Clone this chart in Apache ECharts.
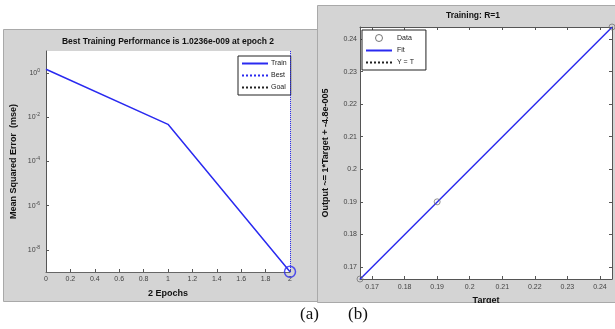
<!DOCTYPE html>
<html>
<head>
<meta charset="utf-8">
<script src="https://cdn.jsdelivr.net/npm/echarts@6/dist/echarts.min.js"></script>
<style>
  html, body { margin: 0; padding: 0; background: #fff; }
  #chart { width: 615px; height: 329px; }
</style>
</head>
<body>
<div id="chart"></div>
<script>
// (a) training performance
const trainEpochs = [0, 1, 2];
const trainMse = [1.5, 0.0048, 1.0236e-9];
const bestEpoch = 2;
const bestPerf = 1.0236e-9;
const goalMse = 1e-5;
const mseTicks = [1, 1e-2, 1e-4, 1e-6, 1e-8];
const epochTicks = [0, 0.2, 0.4, 0.6, 0.8, 1, 1.2, 1.4, 1.6, 1.8, 2];

// (b) regression
const targets = [0.1663, 0.19, 0.2437];
const outputs = [0.1663, 0.19, 0.2437];
const fitSlope = 1;
const fitOffset = -4.8e-5;
const regTicks = [0.17, 0.18, 0.19, 0.2, 0.21, 0.22, 0.23, 0.24];
const regMin = 0.1663, regMax = 0.2437;

const font = 'Liberation Sans, Arial, sans-serif';
const labelColor = '#444';
const blue = '#2a2af0';

const chart = echarts.init(document.getElementById('chart'));

const trainData = trainEpochs.map((e, i) => [e, trainMse[i]]);
const dataPts = targets.map((t, i) => [t, outputs[i]]);
const tMin = Math.min(...targets), tMax = Math.max(...targets);
const fitLine = [[tMin, fitSlope * tMin + fitOffset], [tMax, fitSlope * tMax + fitOffset]];
const ytLine = [[regMin, regMin], [regMax, regMax]];

function fmtReg(v) {
  return String(Number(v.toFixed(2)));
}

const labelStyle = { fontSize: 7, color: labelColor, fontFamily: font };
const nameStyle = { fontSize: 9, fontWeight: 'bold', color: '#111', fontFamily: font };
// hide the symbol in legend icons of line series
const noSym = { opacity: 0 };

chart.setOption({
  backgroundColor: '#fff',
  animation: false,
  graphic: [
    { type: 'rect', z: -1, shape: { x: 3.5, y: 29.5, width: 314, height: 272 },
      style: { fill: '#d4d4d4', stroke: '#a9a9a9', lineWidth: 1 } },
    { type: 'rect', z: -1, shape: { x: 317.5, y: 5.5, width: 300, height: 297 },
      style: { fill: '#d4d4d4', stroke: '#a9a9a9', lineWidth: 1 } },
    { type: 'rect', z: 50, shape: { x: 318, y: 303, width: 300, height: 30 },
      style: { fill: '#fff' } },
    { type: 'text', z: 60, left: 300, top: 306,
      style: { text: '(a)', font: '17px "Liberation Serif", "Times New Roman", serif', fill: '#111' } },
    { type: 'text', z: 60, left: 348, top: 306,
      style: { text: '(b)', font: '17px "Liberation Serif", "Times New Roman", serif', fill: '#111' } }
  ],
  title: [
    { text: 'Best Training Performance is 1.0236e-009 at epoch 2', left: 168, top: 37,
      textAlign: 'center', padding: 0,
      textStyle: { fontSize: 8.5, fontWeight: 'bold', color: '#111', fontFamily: font } },
    { text: 'Training: R=1', left: 473, top: 11, textAlign: 'center', padding: 0,
      textStyle: { fontSize: 8.5, fontWeight: 'bold', color: '#111', fontFamily: font } }
  ],
  grid: [
    { left: 46, top: 51, width: 244, height: 221, show: true, backgroundColor: '#fff', borderWidth: 0 },
    { left: 360, top: 27, width: 252, height: 252, show: true, backgroundColor: '#fff', borderWidth: 0 }
  ],
  legend: [
    {
      data: [
        { name: 'Train', itemStyle: noSym },
        { name: 'Best', itemStyle: noSym },
        { name: 'Goal', itemStyle: noSym }
      ],
      orient: 'vertical', left: 238, top: 56, itemGap: 5, itemWidth: 26, itemHeight: 7,
      padding: [4, 4, 4, 3], backgroundColor: '#fff', borderColor: '#222', borderWidth: 1,
      borderRadius: 0, align: 'left',
      textStyle: { fontSize: 7, color: '#222', fontFamily: font, padding: [0, 0, 0, -2] }
    },
    {
      data: [
        { name: 'Data', icon: 'circle',
          itemStyle: { color: 'rgba(0,0,0,0)', borderColor: '#555', borderWidth: 1 } },
        { name: 'Fit', itemStyle: noSym },
        { name: 'Y = T', itemStyle: noSym }
      ],
      orient: 'vertical', left: 362, top: 30, itemGap: 5, itemWidth: 26, itemHeight: 7,
      padding: [4, 12, 4, 3], backgroundColor: '#fff', borderColor: '#222', borderWidth: 1,
      borderRadius: 0, align: 'left',
      textStyle: { fontSize: 7, color: '#222', fontFamily: font }
    }
  ],
  xAxis: [
    {
      gridIndex: 0, type: 'value', min: 0, max: 2,
      name: '2 Epochs', nameLocation: 'middle', nameGap: 17, nameTextStyle: nameStyle,
      axisLine: { show: true, lineStyle: { color: '#666', width: 1 } },
      axisTick: { inside: true, length: 3, customValues: epochTicks, lineStyle: { color: '#555' } },
      axisLabel: { customValues: epochTicks, margin: 4, ...labelStyle },
      splitLine: { show: false }
    },
    {
      gridIndex: 1, type: 'value', min: regMin, max: regMax,
      name: 'Target', nameLocation: 'middle', nameGap: 15, nameTextStyle: nameStyle,
      axisLine: { show: true, onZero: false, lineStyle: { color: '#555', width: 1 } },
      axisTick: { inside: true, length: 3, customValues: regTicks, lineStyle: { color: '#555' } },
      axisLabel: { customValues: regTicks, margin: 5, formatter: fmtReg, ...labelStyle },
      splitLine: { show: false }
    },
    {
      gridIndex: 1, type: 'value', min: regMin, max: regMax, position: 'top',
      axisLine: { show: true, onZero: false, lineStyle: { color: '#555', width: 1 } },
      axisTick: { inside: true, length: 3, customValues: regTicks, lineStyle: { color: '#555' } },
      axisLabel: { show: false },
      splitLine: { show: false }
    }
  ],
  yAxis: [
    {
      gridIndex: 0, type: 'log', logBase: 10, min: 1e-9, max: 10,
      name: 'Mean Squared Error  (mse)', nameLocation: 'middle', nameGap: 28, nameTextStyle: nameStyle,
      axisLine: { show: true, lineStyle: { color: '#555', width: 1 } },
      axisTick: { inside: true, length: 3, customValues: mseTicks, lineStyle: { color: '#555' } },
      axisLabel: {
        customValues: mseTicks, margin: 6,
        formatter: v => '{b|10}{e|' + Math.round(Math.log10(v)) + '}',
        rich: {
          b: { fontSize: 7, color: labelColor, fontFamily: font },
          e: { fontSize: 5, color: labelColor, fontFamily: font, padding: [0, 0, 5, 0] }
        }
      },
      splitLine: { show: false }
    },
    {
      gridIndex: 1, type: 'value', min: regMin, max: regMax,
      name: 'Output ~= 1*Target + -4.8e-005', nameLocation: 'middle', nameGap: 30, nameTextStyle: nameStyle,
      axisLine: { show: true, onZero: false, lineStyle: { color: '#555', width: 1 } },
      axisTick: { inside: true, length: 3, customValues: regTicks, lineStyle: { color: '#555' } },
      axisLabel: { customValues: regTicks, margin: 3, formatter: fmtReg, ...labelStyle },
      splitLine: { show: false }
    },
    {
      gridIndex: 1, type: 'value', min: regMin, max: regMax, position: 'right',
      axisLine: { show: true, onZero: false, lineStyle: { color: '#555', width: 1 } },
      axisTick: { inside: true, length: 3, customValues: regTicks, lineStyle: { color: '#555' } },
      axisLabel: { show: false },
      splitLine: { show: false }
    }
  ],
  series: [
    {
      name: 'Train', type: 'line', xAxisIndex: 0, yAxisIndex: 0, data: trainData,
      showSymbol: false, symbol: 'none', color: blue, lineStyle: { color: blue, width: 1.5 }, z: 5
    },
    {
      name: 'Best', type: 'line', xAxisIndex: 0, yAxisIndex: 0, data: [],
      symbol: 'none', color: blue, lineStyle: { color: blue, width: 1, type: 'dotted' },
      markLine: {
        silent: true, symbol: 'none', label: { show: false },
        lineStyle: { color: blue, width: 1, type: 'dotted' },
        data: [{ xAxis: bestEpoch }, { yAxis: bestPerf }]
      }
    },
    {
      name: 'Goal', type: 'line', xAxisIndex: 0, yAxisIndex: 0, data: [],
      symbol: 'none', color: '#222', lineStyle: { color: '#222', width: 1, type: 'dotted' },
      markLine: {
        silent: true, symbol: 'none', label: { show: false },
        lineStyle: { color: '#222', width: 1, type: 'dotted' },
        data: [{ yAxis: goalMse }]
      }
    },
    {
      name: 'BestPoint', type: 'scatter', xAxisIndex: 0, yAxisIndex: 0,
      data: [[bestEpoch, bestPerf]], symbol: 'circle', symbolSize: 11,
      itemStyle: { color: 'rgba(0,0,0,0)', borderColor: blue, borderWidth: 1.5 }, z: 6
    },
    {
      name: 'Y = T', type: 'line', xAxisIndex: 1, yAxisIndex: 1, data: ytLine,
      symbol: 'none', color: '#222', lineStyle: { color: '#222', width: 1, type: 'dotted' }
    },
    {
      name: 'Fit', type: 'line', xAxisIndex: 1, yAxisIndex: 1, data: fitLine,
      symbol: 'none', color: blue, lineStyle: { color: blue, width: 1.5 }, z: 4
    },
    {
      name: 'Data', type: 'scatter', xAxisIndex: 1, yAxisIndex: 1, data: dataPts,
      symbol: 'circle', symbolSize: 6,
      itemStyle: { color: 'rgba(0,0,0,0)', borderColor: '#777', borderWidth: 1 }, z: 6
    }
  ]
});
</script>
</body>
</html>
